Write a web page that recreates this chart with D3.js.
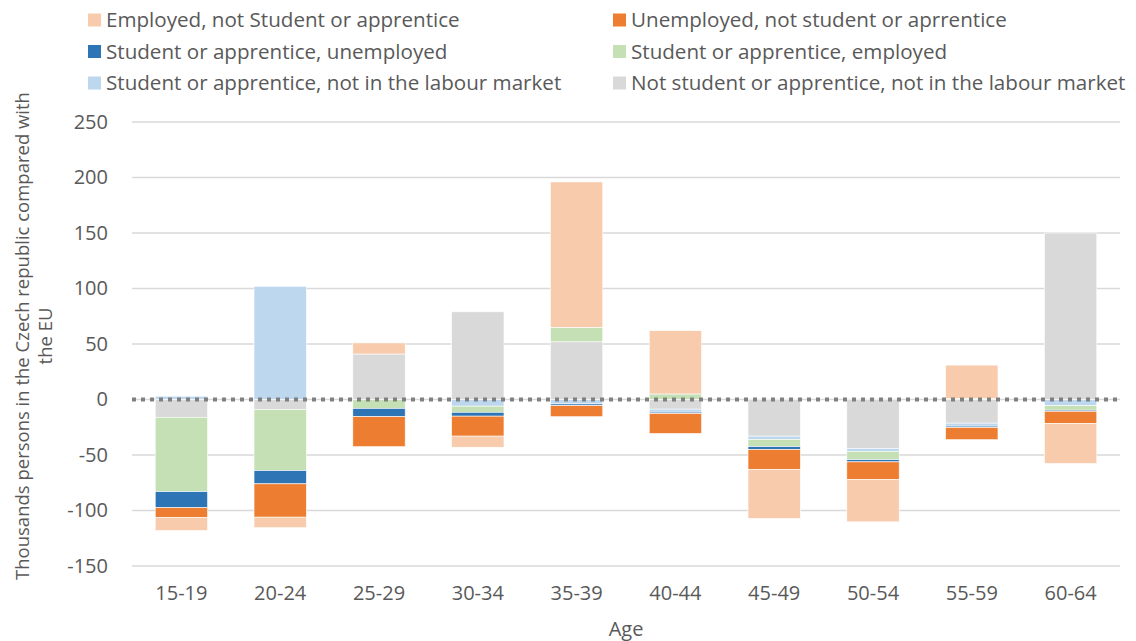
<!DOCTYPE html>
<html>
<head>
<meta charset="utf-8">
<script src="https://cdn.jsdelivr.net/npm/d3@7"></script>
<style>
  body { margin: 0; background: #fff; }
  text { font-family: "Open Sans", "Noto Sans", sans-serif; fill: #595959; }
</style>
</head>
<body>
<div class="chart_box"></div>
<script>
//<data>-------------------------------------//
var ages = ["15-19", "20-24", "25-29", "30-34", "35-39", "40-44", "45-49", "50-54", "55-59", "60-64"];
var employedNotStudent   = [-11.5, -9.5, 10, -10, 131, 57, -44, -38, 30, -36];
var unemployedNotStudent = [-9, -30, -27, -18, -10, -18, -18, -16, -11, -11];
var studentUnemployed    = [-14.5, -12, -7.5, -3.5, -1.5, -1.2, -2.7, -2, -1.2, -1];
var studentEmployed      = [-67, -55, -8, -5.5, 13, 5, -6.4, -7.5, 1, -4.2];
var studentNotInLM       = [3, 102, 0, -6, -4, -2.7, -3, -2.7, -2.7, -5.4];
var notStudentNotInLM    = [-16, -9, 41, 79, 52, -8.7, -33, -44, -21.3, 150];
var yTicks = [-150, -100, -50, 0, 50, 100, 150, 200, 250];

// legend order (as shown) / stack order (from zero outward)
var series = [
    { key: "emp",   name: "Employed, not Student or apprentice",                 color: "#F8CBAD", values: employedNotStudent },
    { key: "unemp", name: "Unemployed, not student or aprrentice",               color: "#ED7D31", values: unemployedNotStudent },
    { key: "stun",  name: "Student or apprentice, unemployed",                   color: "#2E75B6", values: studentUnemployed },
    { key: "stem",  name: "Student or apprentice, employed",                     color: "#C5E0B4", values: studentEmployed },
    { key: "stnl",  name: "Student or apprentice, not in the labour market",     color: "#BDD7EE", values: studentNotInLM },
    { key: "nsnl",  name: "Not student or apprentice, not in the labour market", color: "#D9D9D9", values: notStudentNotInLM }
];
var stackKeys = ["nsnl", "stnl", "stem", "stun", "unemp", "emp"];

//<size>-------------------------------------//
var W = 1136, H = 641;
var margin = { top: 122, right: 16, bottom: 75, left: 132 },
    width = W - margin.left - margin.right,
    height = H - margin.top - margin.bottom;

var svg = d3.select(".chart_box").append("svg")
    .attr("width", W).attr("height", H);

var rows = ages.map(function (a, i) {
    var r = { age: a };
    series.forEach(function (s) { r[s.key] = s.values[i]; });
    return r;
});
var stacked = d3.stack().keys(stackKeys).offset(d3.stackOffsetDiverging)(rows);
var colorOf = {};
series.forEach(function (s) { colorOf[s.key] = s.color; });

var x = d3.scaleBand().domain(ages).range([0, width]).paddingInner(0.47).paddingOuter(0.235);
var y = d3.scaleLinear().domain([-150, 250]).range([height, 0]);

var g = svg.append("g").attr("transform", "translate(" + margin.left + "," + margin.top + ")");

//gridlines-------------------------------------//
g.selectAll(".grid").data(yTicks).enter().append("line")
    .attr("x1", 0).attr("x2", width)
    .attr("y1", function (d) { return y(d); }).attr("y2", function (d) { return y(d); })
    .attr("stroke", "#D9D9D9").attr("stroke-width", 1.5);

//y axis labels (plain hyphen like the original)
var yAxis = d3.axisLeft(y).tickValues(yTicks).tickSize(0).tickPadding(24)
    .tickFormat(function (d) { return String(d); });
var ya = g.append("g").call(yAxis);
ya.select(".domain").remove();
ya.selectAll("text").style("font-size", "20px").attr("fill", "#595959");

//x axis labels
var xAxis = d3.axisBottom(x).tickSize(0).tickPadding(20);
var xa = g.append("g").attr("transform", "translate(0," + height + ")").call(xAxis);
xa.select(".domain").remove();
xa.selectAll("text").style("font-size", "20px").attr("fill", "#595959");

//bars-------------------------------------//
g.selectAll(".layer").data(stacked).enter().append("g")
    .attr("fill", function (d) { return colorOf[d.key]; })
    .selectAll("rect").data(function (d) { return d; }).enter().append("rect")
    .attr("x", function (d) { return x(d.data.age); })
    .attr("width", x.bandwidth())
    .attr("y", function (d) { return y(Math.max(d[0], d[1])); })
    .attr("height", function (d) { return Math.abs(y(d[0]) - y(d[1])); })
    .attr("stroke", "#fff").attr("stroke-width", 0.6);

//zero dotted line
g.append("line")
    .attr("x1", 0).attr("x2", width)
    .attr("y1", y(0)).attr("y2", y(0))
    .attr("stroke", "#808080").attr("stroke-width", 4)
    .attr("stroke-dasharray", "4,5");

//axis titles-------------------------------------//
svg.append("text")
    .attr("x", margin.left + width / 2).attr("y", 636)
    .attr("text-anchor", "middle").style("font-size", "20px")
    .text("Age");

var yt = svg.append("text")
    .attr("transform", "translate(29," + (margin.top + y(50) - 8) + ") rotate(-90)")
    .attr("text-anchor", "middle").style("font-size", "18.5px");
yt.append("tspan").attr("x", 0).attr("dy", 0).text("Thousands persons in the Czech republic  compared with");
yt.append("tspan").attr("x", 0).attr("dy", 23).text("the  EU");

//legend-------------------------------------//
var legend = svg.append("g");
series.forEach(function (s, i) {
    var col = i % 2, row = Math.floor(i / 2);
    var lx = col === 0 ? 88 : 613, ly = 20 + row * 31.5;
    legend.append("rect").attr("x", lx).attr("y", ly - 6.5).attr("width", 13).attr("height", 13).attr("fill", s.color);
    legend.append("text").attr("x", lx + 18).attr("y", ly + 7).style("font-size", "20.6px").text(s.name);
});
</script>
</body>
</html>
